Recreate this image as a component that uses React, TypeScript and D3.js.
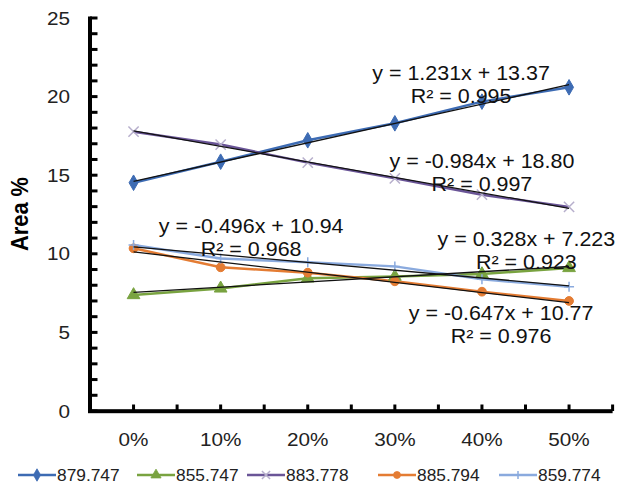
import React, { useEffect, useRef } from "react";
import * as d3 from "d3";

// categories (x axis)
const categories = ["0%", "10%", "20%", "30%", "40%", "50%"];
const yTicks = [0, 5, 10, 15, 20, 25];

// series values
const s879 = [14.52, 15.86, 17.22, 18.3, 19.68, 20.59];
const s855 = [7.38, 7.8, 8.44, 8.55, 8.71, 9.1];
const s883 = [17.77, 16.95, 15.8, 14.8, 13.76, 12.98];
const s885 = [10.35, 9.14, 8.8, 8.25, 7.59, 7.0];
const s859 = [10.56, 9.7, 9.46, 9.2, 8.38, 7.91];

// linear trendlines (slope, intercept over x = 1..6)
const slopes = [1.231, 0.328, -0.984, -0.647, -0.496];
const intercepts = [13.37, 7.223, 18.8, 10.77, 10.94];
const eqTexts = [
  "y = 1.231x + 13.37",
  "y = 0.328x + 7.223",
  "y = -0.984x + 18.80",
  "y = -0.647x + 10.77",
  "y = -0.496x + 10.94",
];
const r2Texts = ["R² = 0.995", "R² = 0.923", "R² = 0.997", "R² = 0.976", "R² = 0.968"];

const names = ["879.747", "855.747", "883.778", "885.794", "859.774"];

export default function App() {
  const ref = useRef<SVGSVGElement>(null);

  useEffect(() => {
    const svg = d3.select(ref.current);
    svg.selectAll("*").remove();
    const font = "'Liberation Sans', Arial, sans-serif";

    const x = d3.scaleBand().domain(categories).range([90, 612.6]);
    const xc = (i) => x(categories[i]) + x.bandwidth() / 2;
    // fractional index -> pixel, for label anchors
    const xi = d3.scaleLinear().domain([0, 5]).range([xc(0), xc(5)]);
    const y = d3.scaleLinear().domain([0, 25]).range([411, 18]);

    const series = [
      { values: s879, line: "#3d6bb3", marker: "#3d6bb3", shape: "diamond" },
      { values: s855, line: "#79a340", marker: "#79a340", shape: "triangle" },
      { values: s883, line: "#6a5597", marker: "#b7afcc", shape: "cross" },
      { values: s885, line: "#e47c33", marker: "#e47c33", shape: "circle" },
      { values: s859, line: "#8aaade", marker: "#8aaade", shape: "plus" },
    ];

    // label anchors in data coordinates (fractional category index, value)
    const labelAnchors = [
      [3.76, 21.06],
      [4.51, 10.5],
      [4.0, 15.46],
      [4.22, 5.79],
      [1.35, 11.32],
    ];

    // axes drawn as filled rects
    const axis = svg.append("g").attr("fill", "#000");
    axis.append("rect")
      .attr("x", 88).attr("y", y(25) - 1.5)
      .attr("width", 4).attr("height", y(0) - y(25) + 3.5);
    axis.append("rect")
      .attr("x", 88).attr("y", y(0) - 1.8)
      .attr("width", 612.6 - 88).attr("height", 4);
    d3.range(0, 26).forEach((v) => {
      axis.append("rect")
        .attr("x", 90).attr("y", y(v) - 1.5)
        .attr("width", 7.5).attr("height", 3);
    });
    d3.range(1, 13).forEach((k) => {
      const px = 90 + (k * x.bandwidth()) / 2;
      axis.append("rect")
        .attr("x", px - 1.5).attr("y", y(0) - 6.5)
        .attr("width", 3).attr("height", 6.5);
    });

    yTicks.forEach((v) => {
      svg.append("text")
        .attr("transform", `translate(70,${y(v) + 6.5}) scale(1.12,1)`)
        .attr("text-anchor", "end")
        .style("font-family", font).style("font-size", "18.5px").style("fill", "#222")
        .text(v);
    });
    categories.forEach((c, i) => {
      svg.append("text")
        .attr("transform", `translate(${xc(i)},446) scale(1.12,1)`)
        .attr("text-anchor", "middle")
        .style("font-family", font).style("font-size", "18.5px").style("fill", "#222")
        .text(c);
    });
    svg.append("text")
      .attr("transform", `translate(28,214) rotate(-90) scale(1.04,1.1)`)
      .attr("text-anchor", "middle")
      .style("font-family", font).style("font-size", "21px").style("font-weight", "bold")
      .text("Area %");

    const symbolFor = (shape) => {
      if (shape === "diamond") return d3.symbol(d3.symbolDiamond, 70)();
      if (shape === "triangle") return d3.symbol(d3.symbolTriangle, 70)();
      if (shape === "circle") return d3.symbol(d3.symbolCircle, 60)();
      return d3.symbol(d3.symbolX, 70)();
    };
    const drawMarker = (g, s, px, py, k = 1) => {
      if (s.shape === "plus") {
        g.append("path")
          .attr("d", `M${px - 5 * k},${py}H${px + 5 * k}M${px},${py - 5 * k}V${py + 5 * k}`)
          .attr("stroke", s.marker).attr("stroke-width", 1.5);
        return;
      }
      const open = s.shape === "cross";
      g.append("path")
        .attr("d", symbolFor(s.shape))
        .attr("transform", `translate(${px},${py}) scale(${k})`)
        .attr("fill", open ? "none" : s.marker)
        .attr("stroke", s.marker)
        .attr("stroke-width", open ? 1.5 / k : 1);
    };

    const line = d3.line<number>().x((d, i) => xc(i)).y((d) => y(d));

    const plot = svg.append("g");
    series.forEach((s) => {
      plot.append("path")
        .attr("d", line(s.values))
        .attr("fill", "none")
        .attr("stroke", s.line)
        .attr("stroke-width", 2.5);
    });
    series.forEach((s) => {
      s.values.forEach((v, i) => drawMarker(plot, s, xc(i), y(v)));
    });

    // trendlines
    slopes.forEach((m, k) => {
      plot.append("line")
        .attr("x1", xc(0)).attr("y1", y(m * 1 + intercepts[k]))
        .attr("x2", xc(5)).attr("y2", y(m * 6 + intercepts[k]))
        .attr("stroke", "#111").attr("stroke-width", 1.3);
    });

    // equation labels
    eqTexts.forEach((t, k) => {
      const [ax0, ay0] = labelAnchors[k];
      const px = xi(ax0);
      const py = y(ay0);
      svg.append("text")
        .attr("transform", `translate(${px},${py}) scale(1.1,1)`)
        .attr("text-anchor", "middle")
        .style("font-family", font).style("font-size", "19.5px").style("fill", "#111")
        .text(t);
      svg.append("text")
        .attr("transform", `translate(${px},${py + 23}) scale(1.1,1)`)
        .attr("text-anchor", "middle")
        .style("font-family", font).style("font-size", "19.5px").style("fill", "#111")
        .text(r2Texts[k]);
    });

    // legend
    const legendX = [18, 137, 247, 378, 499];
    const ly = 475;
    names.forEach((n, k) => {
      const s = series[k];
      const g = svg.append("g");
      g.append("line")
        .attr("x1", legendX[k]).attr("x2", legendX[k] + 38)
        .attr("y1", ly).attr("y2", ly)
        .attr("stroke", s.line).attr("stroke-width", 2.5);
      drawMarker(g, s, legendX[k] + 19, ly, 0.8);
      g.append("text")
        .attr("transform", `translate(${legendX[k] + 39},${ly + 6}) scale(1.05,1)`)
        .style("font-family", font).style("font-size", "16.5px").style("fill", "#222")
        .text(n);
    });
  }, []);

  return (
    <svg
      ref={ref}
      width={617}
      height={487}
      style={{ position: "absolute", left: 0, top: 0, background: "#fff" }}
    />
  );
}
